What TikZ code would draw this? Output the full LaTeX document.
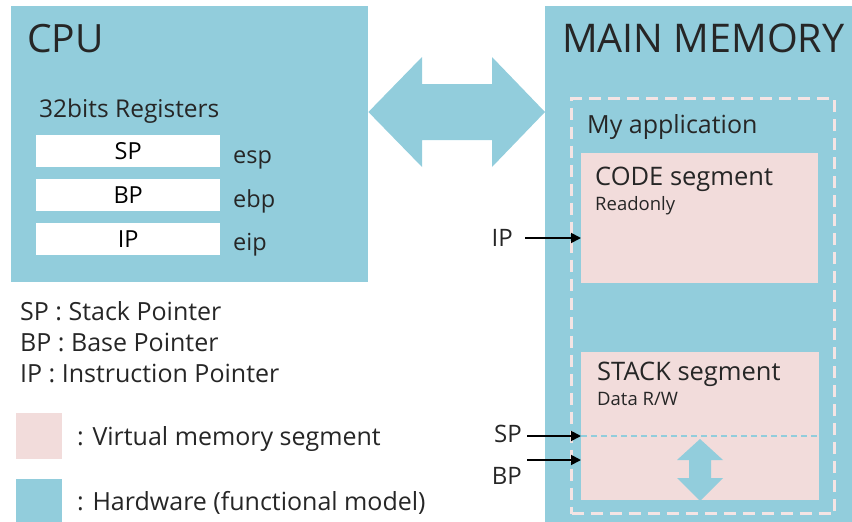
\documentclass[tikz,border=0pt]{standalone}
\usepackage{fontspec}
\setmainfont{Open Sans}
\usetikzlibrary{arrows.meta}
\definecolor{hw}{HTML}{92CDDC}
\definecolor{seg}{HTML}{F2DCDB}
\definecolor{ink}{HTML}{262626}
\definecolor{framec}{HTML}{F4E4E4}
\newcommand{\fs}[1]{\fontsize{#1}{#1}\selectfont}
\tikzset{
  hwbox/.style={fill=hw, anchor=north west, inner sep=0pt},
  segbox/.style={fill=seg, anchor=north west, inner sep=0pt},
  regbox/.style={fill=white, anchor=north west, inner sep=0pt,
    minimum width=184pt, minimum height=32pt, font=\fs{23.5},
    text height=17pt, text depth=0pt},
  txt/.style={text=ink, inner sep=0pt, anchor=base west},
  ptrlbl/.style={text=ink, inner sep=0pt, anchor=east, font=\fs{24},
    text height=17pt, text depth=0pt},
  ptr/.style={draw=black, line width=1.8pt, -{Triangle[length=10pt,width=10pt]}},
}
\begin{document}
\begin{tikzpicture}[x=1pt,y=-1pt]
\useasboundingbox (0,0) rectangle (852,522);

% hardware blocks
\node[hwbox, minimum width=357pt, minimum height=276pt] (cpu) at (11,6) {};
\node[hwbox, minimum width=308pt, minimum height=516pt] (mem) at (545,6) {};

% bus between CPU and memory
\fill[hw] (cpu.east |- 0,112) -- (422,57) -- (422,84) -- (492,84) -- (492,57)
  -- (mem.west |- 0,112) -- (492,167) -- (492,140) -- (422,140) -- (422,167) -- cycle;

% CPU contents
\node[txt, font=\fs{39}] (cputitle) at (27,52) {CPU};
\node[txt, font=\fs{24.5}] (regs) at (39,117) {32bits Registers};
\node[regbox] (sp) at (36,135) {SP};
\node[regbox] (bp) at (36,179) {BP};
\node[regbox] (ip) at (36,223) {IP};
\node[txt, font=\fs{23.5}] (esp) at (233,163) {esp};
\node[txt, font=\fs{23.5}] (ebp) at (233,207) {ebp};
\node[txt, font=\fs{23.5}] (eip) at (233,250) {eip};

% memory contents
\node[txt, font=\fs{39.5}] (memtitle) at (562,52) {MAIN MEMORY};
\node[draw=framec, line width=3pt, dash pattern=on 12pt off 7pt,
  anchor=north west, inner sep=0pt, minimum width=263pt, minimum height=415pt] (app) at (570,97) {};
\node[txt, font=\fs{25}] (apptitle) at (587,133) {My application};

\node[segbox, minimum width=237pt, minimum height=130pt] (code) at (581,153) {};
\node[txt, font=\fs{25.5}] (codetitle) at (595,185) {CODE segment};
\node[txt, font=\fs{18.5}] (codero) at (595,210) {Readonly};

\node[segbox, minimum width=238pt, minimum height=148pt] (stack) at (581,352) {};
\node[txt, font=\fs{25.5}] (stacktitle) at (597,380) {STACK segment};
\node[txt, font=\fs{18.5}] (stackrw) at (597,405) {Data R/W};
\draw[hw, line width=1.2pt, dash pattern=on 6pt off 4pt]
  (stack.west |- 0,436) -- (stack.east |- 0,436);
\fill[hw] (700,439) -- (723,460) -- (711,460) -- (711,478) -- (723,478) -- (700,501)
  -- (677,478) -- (689,478) -- (689,460) -- (677,460) -- cycle;

% pointers into memory
\node[ptrlbl] (ipl) at (513,238) {IP};
\draw[ptr] ([xshift=12pt]ipl.east) -- (ipl.east -| code.west);
\node[ptrlbl] (spl) at (522,434) {SP};
\coordinate (spa) at (527,436);
\draw[ptr] (spa) -- (spa -| stack.west);
\node[ptrlbl] (bpl) at (522,476) {BP};
\coordinate (bpa) at (527,460);
\draw[ptr] (bpa) -- (bpa -| stack.west);

% legend
\node[txt, font=\fs{25}] (lsp) at (20,320) {SP : Stack Pointer};
\node[txt, font=\fs{25}] (lbp) at (20,351) {BP : Base Pointer};
\node[txt, font=\fs{25}] (lip) at (20,382) {IP : Instruction Pointer};
\node[segbox, minimum width=46pt, minimum height=46pt] (legseg) at (16,413) {};
\node[txt, font=\fs{25}] (legsegt) at (77,445) {: Virtual memory segment};
\node[hwbox, minimum width=46pt, minimum height=46pt] (leghw) at (16,479) {};
\node[txt, font=\fs{25}] (leghwt) at (77,510) {: Hardware (functional model)};
\end{tikzpicture}
\end{document}
